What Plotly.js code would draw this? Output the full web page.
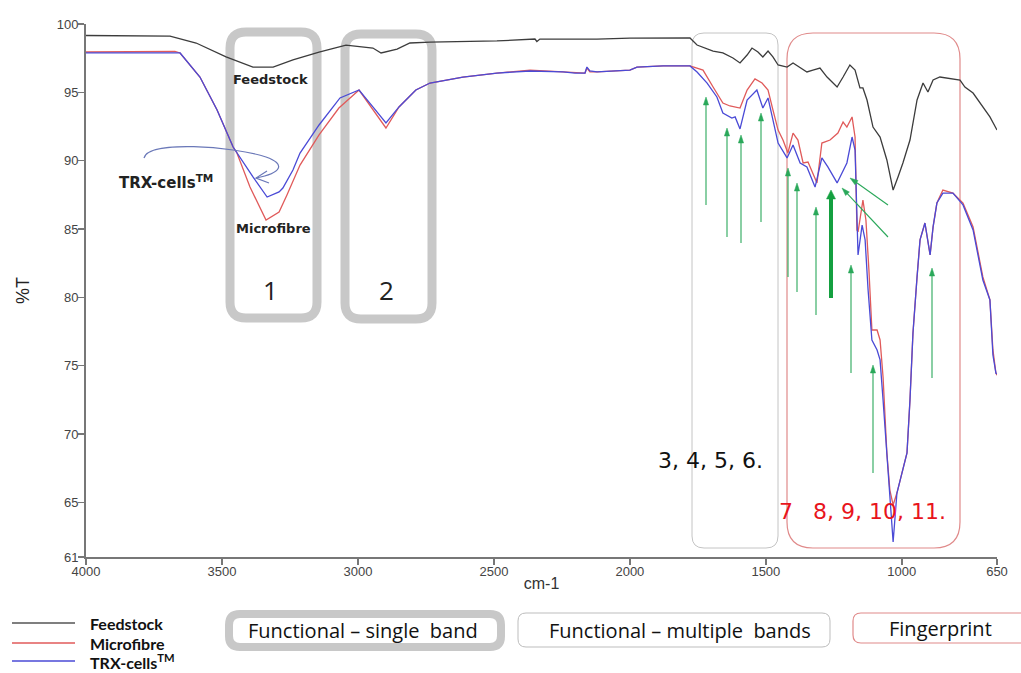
<!DOCTYPE html>
<html>
<head>
<meta charset="utf-8">
<script src="https://cdn.plot.ly/plotly-3.0.1.min.js"></script>
<style>html,body{margin:0;padding:0;background:#fff;}#chart{width:1021px;height:673px;}</style>
</head>
<body>
<div id="chart"></div>
<script>
// ---- Data (wavenumber cm-1, %T) ----
const wnFeed = [4000,3838,3691,3595,3485,3386,3312,3239,3143,3044,2981,2945,2915,2856,2809,2735,2489,2349,2342,2331,2121,2000,1779,1753,1694,1658,1621,1595,1569,1551,1529,1511,1492,1474,1455,1422,1400,1374,1349,1327,1301,1275,1238,1216,1191,1172,1154,1143,1128,1106,1080,1055,1032,1014,996,970,944,922,904,885,860,786,768,738,702,676,650];
const tFeed  = [99.16,99.16,99.12,98.61,97.59,96.85,96.85,97.37,97.95,98.46,98.32,98.24,97.88,98.17,98.61,98.68,98.76,98.90,98.72,98.90,98.90,98.97,98.98,98.46,98.02,97.88,97.51,97.15,97.73,98.24,97.95,97.59,98.02,97.59,97.00,96.85,97.15,96.78,96.49,96.63,96.78,96.12,95.39,96.12,97.00,96.63,95.32,95.32,94.44,92.46,91.73,90.05,87.85,88.81,89.83,91.51,94.44,95.68,95.02,95.90,96.12,95.90,95.39,94.95,93.93,93.20,92.24];

const wnMicro = [4000,3838,3673,3654,3581,3518,3459,3445,3397,3338,3290,3261,3213,3143,3070,2996,2945,2897,2849,2787,2735,2614,2489,2367,2246,2165,2158,2147,2121,2000,1974,1878,1779,1731,1694,1658,1632,1595,1569,1540,1514,1492,1474,1455,1437,1419,1400,1382,1363,1345,1312,1294,1264,1235,1216,1202,1183,1172,1165,1161,1143,1132,1121,1110,1091,1080,1069,1055,1044,1032,1018,999,981,970,959,944,933,915,896,885,871,849,812,775,738,702,676,665,654,650];
const tMicro  = [97.95,97.97,97.99,97.88,96.12,93.71,91.00,90.56,88.07,85.66,86.24,87.49,89.68,91.88,93.85,95.17,93.71,92.39,93.93,95.17,95.68,96.12,96.41,96.63,96.49,96.41,96.78,96.49,96.49,96.63,96.85,96.93,96.93,96.63,95.39,94.22,94.00,93.85,95.17,95.98,95.68,95.17,93.71,92.24,91.51,90.56,92.02,91.51,89.83,89.90,88.37,91.29,91.51,92.02,92.83,92.46,93.20,91.73,84.93,84.78,87.12,85.66,82.00,77.61,77.61,76.88,74.17,68.61,65.90,64.81,65.68,67.15,68.61,72.49,77.39,81.49,84.20,85.44,83.10,85.15,86.90,87.85,87.63,86.90,85.15,81.49,79.81,76.15,74.46,74.30];

const wnTrx = [4000,3838,3673,3654,3581,3518,3459,3445,3386,3334,3290,3276,3239,3213,3143,3066,2996,2945,2897,2849,2787,2735,2614,2489,2367,2246,2202,2165,2158,2147,2121,2000,1974,1878,1779,1753,1716,1680,1658,1625,1613,1595,1569,1533,1511,1492,1474,1455,1422,1400,1374,1349,1319,1294,1272,1238,1202,1183,1172,1165,1161,1146,1135,1124,1110,1091,1080,1069,1055,1044,1032,1018,999,981,970,959,944,933,915,896,885,871,849,812,775,738,702,676,665,654,650];
const tTrx  = [97.88,97.90,97.91,97.88,96.12,93.71,91.00,90.56,88.81,87.34,87.71,88.00,89.32,90.56,92.61,94.59,95.17,93.93,92.76,93.93,95.17,95.68,96.12,96.41,96.56,96.49,96.41,96.41,96.85,96.56,96.49,96.63,96.85,96.93,96.93,96.49,95.68,94.66,93.49,93.12,93.20,92.32,94.44,95.17,93.85,94.59,92.98,91.29,90.20,91.15,89.83,89.54,88.07,90.20,89.54,88.37,89.83,91.73,90.78,84.93,83.10,85.29,84.20,80.54,76.88,76.15,75.42,72.49,68.61,65.90,62.10,65.68,67.15,68.61,72.49,77.39,81.49,84.20,85.44,83.10,85.15,86.90,87.63,87.63,86.76,84.93,81.27,79.81,75.78,74.46,74.40];

const seriesNames = ['Feedstock','Microfibre','TRX-cells\u2122'];
const seriesColors = ['#3c3c3c','#e05a5a','#4a4ad6'];
const xTickVals = [4000,3500,3000,2500,2000,1500,1000,650];
const yTickVals = [61,65,70,75,80,85,90,95,100];
const regionLabels = ['Functional \u2013 single  band','Functional \u2013 multiple  bands','Fingerprint'];

// ---- Layout helpers (pixel -> paper) ----
const L = 86, R = 997, T = 24, B = 557;
const X = px => (px - L) / (R - L);
const Y = py => (B - py) / (B - T);
const P = (a, b) => X(a) + ',' + Y(b);
function rr(x0, y0, x1, y1, r) {
  return 'M' + P(x0 + r, y0) + ' L' + P(x1 - r, y0) + ' Q' + P(x1, y0) + ' ' + P(x1, y0 + r) +
    ' L' + P(x1, y1 - r) + ' Q' + P(x1, y1) + ' ' + P(x1 - r, y1) +
    ' L' + P(x0 + r, y1) + ' Q' + P(x0, y1) + ' ' + P(x0, y1 - r) +
    ' L' + P(x0, y0 + r) + ' Q' + P(x0, y0) + ' ' + P(x0 + r, y0) + ' Z';
}
function boxShape(x0, y0, x1, y1, r, color, width, fill) {
  return {type: 'path', xref: 'paper', yref: 'paper', path: rr(x0, y0, x1, y1, r),
    line: {color: color, width: width}, fillcolor: fill || 'rgba(0,0,0,0)', layer: 'below'};
}

const traces = [
  {x: wnFeed, y: tFeed, name: seriesNames[0], mode: 'lines', line: {color: seriesColors[0], width: 1.3}},
  {x: wnMicro, y: tMicro, name: seriesNames[1], mode: 'lines', line: {color: seriesColors[1], width: 1.3}},
  {x: wnTrx, y: tTrx, name: seriesNames[2], mode: 'lines', line: {color: seriesColors[2], width: 1.3}}
];

const shapes = [
  boxShape(230, 32, 317, 318, 16, '#c8c8c8', 9),
  boxShape(345, 34, 432, 319, 16, '#c8c8c8', 9),
  boxShape(692, 33, 778, 548, 12, '#c4c4c4', 1),
  boxShape(787, 33, 960, 548, 26, '#e08a8a', 1.2),
  // region key boxes
  boxShape(229, 614, 501, 647, 11, '#c8c8c8', 8, '#ffffff'),
  boxShape(518, 613, 830, 647, 8, '#bdbdbd', 1),
  boxShape(853, 613, 1035, 643, 8, '#e08a8a', 1.2),
  // blue curved pointer
  {type: 'path', xref: 'paper', yref: 'paper', layer: 'above', line: {color: '#6a78b8', width: 1.2},
    path: 'M' + P(144, 158) + ' C' + P(148, 140) + ' ' + P(232, 146) + ' ' + P(266, 157) +
      ' C' + P(286, 164) + ' ' + P(282, 173) + ' ' + P(256, 178)},
  {type: 'path', xref: 'paper', yref: 'paper', layer: 'above', line: {color: '#6a78b8', width: 1.2},
    path: 'M' + P(267, 171) + ' L' + P(256, 178) + ' L' + P(269, 183)}
];
// custom legend lines
const legY = [623, 643, 661];
const legLineColors = ['#555555', seriesColors[1], seriesColors[2]];
legLineColors.forEach((c, i) => shapes.push({type: 'line', xref: 'paper', yref: 'paper',
  x0: X(12), x1: X(75), y0: Y(legY[i]), y1: Y(legY[i]), line: {color: c, width: 1.5}}));

// green arrows as shapes
function arrow(x0, y0, x1, y1, w, color, hl, hw) {
  const dx = x1 - x0, dy = y1 - y0, len = Math.hypot(dx, dy);
  const ux = dx / len, uy = dy / len, nx = -uy, ny = ux;
  const bx = x1 - ux * hl, by = y1 - uy * hl;
  shapes.push({type: 'path', xref: 'paper', yref: 'paper', layer: 'above',
    path: 'M' + P(x0, y0) + ' L' + P(bx + ux * 1, by + uy * 1), line: {color: color, width: w}});
  shapes.push({type: 'path', xref: 'paper', yref: 'paper', layer: 'above',
    path: 'M' + P(x1, y1) + ' L' + P(bx + nx * hw, by + ny * hw) + ' L' + P(bx - nx * hw, by - ny * hw) + ' Z',
    line: {color: color, width: 0.5}, fillcolor: color});
}
const green = '#2aa85a';
const vArrows = [[706, 97, 205], [727, 128, 237], [741, 135, 243], [761, 113, 222],
  [788, 168, 277], [797, 183, 292], [816, 207, 315], [851, 265, 373], [873, 365, 473], [932, 268, 378]];
vArrows.forEach(a => arrow(a[0], a[2], a[0], a[1], 1.1, green, 8, 2.6));
arrow(831, 298, 831, 190, 4, '#14a040', 9, 4.5);
arrow(888, 205, 850, 178, 1.1, green, 8, 2.6);
arrow(888, 237, 842, 188, 1.1, green, 8, 2.6);

const annotations = [];
function txt(text, px, py, size, color, bold, family, xanchor) {
  annotations.push({xref: 'paper', yref: 'paper', x: X(px), y: Y(py), text: text, showarrow: false,
    xanchor: xanchor || 'center', yanchor: 'middle',
    font: {size: size, color: color, family: family || 'DejaVu Sans', weight: bold ? 'bold' : 'normal'}});
}
txt('Feedstock', 270, 80, 13, '#222', true);
txt('Microfibre', 273, 229, 13, '#222', true);
txt('TRX-cells<sup>TM</sup>', 166, 182, 15, '#222', true);
txt('1', 270, 290, 26, '#222', false, 'Open Sans');
txt('2', 386, 290, 26, '#222', false, 'Open Sans');
txt('3, 4, 5, 6.', 710, 460, 22, '#111', false, 'DejaVu Sans');
txt('7', 786, 511, 22, '#e8141c', false, 'DejaVu Sans');
txt('8, 9, 10, 11.', 879, 511, 22, '#e8141c', false, 'DejaVu Sans');
txt(regionLabels[0], 363, 630, 20, '#111', false, 'Open Sans');
txt(regionLabels[1], 680, 630, 20, '#111', false, 'Open Sans');
txt(regionLabels[2], 940, 628, 20, '#111', false, 'Open Sans');
seriesNames.forEach((n, i) => txt(n.replace('\u2122', '<sup>TM</sup>'), 88, legY[i], 16, '#111', true, 'Lato', 'left'));

const layout = {
  width: 1021, height: 673,
  margin: {l: L, r: 1021 - R, t: T, b: 673 - B},
  paper_bgcolor: '#fff', plot_bgcolor: '#fff',
  showlegend: false,
  xaxis: {range: [4000, 650], tickvals: xTickVals, ticktext: xTickVals.map(String), ticks: 'outside', ticklen: 6,
    tickcolor: '#777', tickwidth: 1.5, showline: true, linecolor: '#777', linewidth: 2, showgrid: false, zeroline: false,
    ticklabelstandoff: -5,
    tickfont: {family: 'Liberation Sans', size: 13, color: '#444'},
    title: {text: 'cm-1', font: {family: 'Liberation Sans', size: 16, color: '#333'}, standoff: 0}},
  yaxis: {range: [61, 100], tickvals: yTickVals, ticks: 'outside', ticklen: 6, tickcolor: '#777', tickwidth: 1.5,
    showline: true, linecolor: '#777', linewidth: 2, showgrid: false, zeroline: false,
    ticklabelstandoff: -3,
    tickfont: {family: 'Liberation Sans', size: 13, color: '#444'},
    title: {text: '%T', font: {family: 'Liberation Sans', size: 18, color: '#222'}, standoff: 22}},
  shapes: shapes,
  annotations: annotations,
  font: {family: 'Liberation Sans'}
};
Plotly.newPlot('chart', traces, layout, {displayModeBar: false, staticPlot: true});
</script>
</body>
</html>
